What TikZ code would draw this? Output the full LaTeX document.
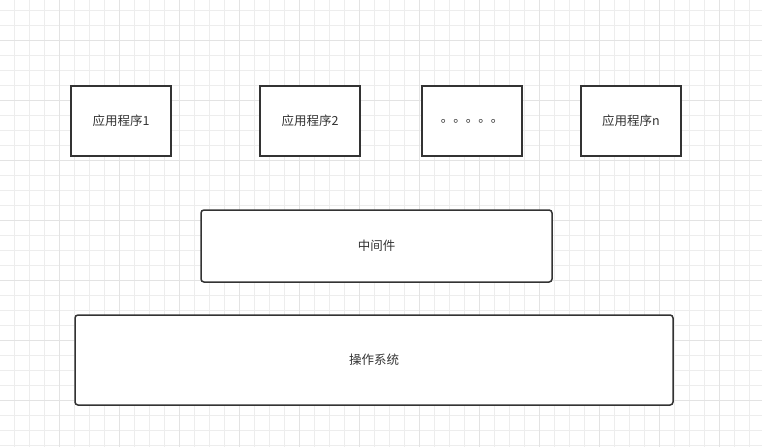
\documentclass[tikz,border=0pt]{standalone}
\usepackage{fontspec}
\newfontfamily\cjk{Noto Sans CJK SC}
\begin{document}
\begin{tikzpicture}[x=1pt,y=-1pt,
  box/.style={draw=black!80,line width=1.5pt,fill=white,font=\cjk\fontsize{12.5}{14}\selectfont,text=black!80},
  rbox/.style={box,rounded corners=3pt}]
\fill[white] (0,0) rectangle (762,447);
\useasboundingbox (0,0) rectangle (762,447);
\foreach \i in {0,...,50} {\draw[black!7,line width=0.6pt] (14+15*\i,0) -- (14+15*\i,447);}
\foreach \i in {0,...,29} {\draw[black!7,line width=0.6pt] (0,10+15*\i) -- (762,10+15*\i);}
\foreach \i in {0,...,12} {\draw[black!11,line width=0.6pt] (59+60*\i,0) -- (59+60*\i,447);}
\foreach \i in {0,...,7} {\draw[black!11,line width=0.6pt] (0,40+60*\i) -- (762,40+60*\i);}
\node[box,minimum width=100pt,minimum height=70pt] (a1) at (121,121) {应用程序1};
\node[box,minimum width=100pt,minimum height=70pt] (a2) at (310,121) {应用程序2};
\node[box,minimum width=100pt,minimum height=70pt] (ad) at (472,121) {。。。。。};
\node[box,minimum width=100pt,minimum height=70pt] (an) at (631,121) {应用程序n};
\node[rbox,minimum width=351pt,minimum height=72pt] (mw) at (376.5,246) {中间件};
\node[rbox,minimum width=598pt,minimum height=90pt] (os) at (374,360) {操作系统};
\end{tikzpicture}
\end{document}
